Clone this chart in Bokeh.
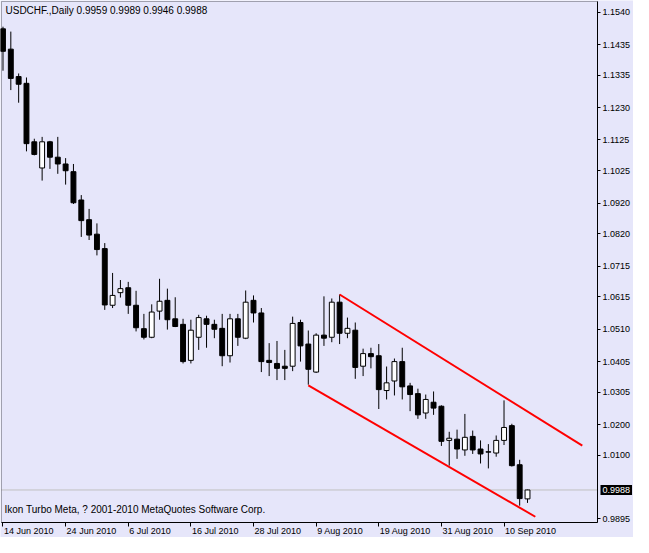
from bokeh.plotting import figure
from bokeh.models import Range1d, FixedTicker, PrintfTickFormatter, Label, BoxAnnotation
from bokeh.core.properties import value
from bokeh.embed import file_html
from bokeh.resources import INLINE

# ---- data (USDCHF daily, 14 Jun 2010 .. 15 Sep 2010) ----
opens = [1.1486, 1.1420, 1.1331, 1.1309, 1.1119, 1.1034, 1.1119, 1.1069, 1.1047, 1.1022,
         1.0930, 1.0866, 1.0819, 1.0772, 1.0588, 1.0629, 1.0645, 1.0588, 1.0512, 1.0484,
         1.0569, 1.0604, 1.0544, 1.0526, 1.0409, 1.0484, 1.0544, 1.0526, 1.0513, 1.0424,
         1.0544, 1.0481, 1.0604, 1.0563, 1.0409, 1.0399, 1.0390, 1.0390, 1.0532, 1.0462,
         1.0371, 1.0491, 1.0484, 1.0598, 1.0497, 1.0507, 1.0390, 1.0431, 1.0424, 1.0311,
         1.0342, 1.0405, 1.0326, 1.0301, 1.0238, 1.0273, 1.0260, 1.0149, 1.0153, 1.0118,
         1.0162, 1.0121, 1.0112, 1.0108, 1.0149, 1.0197, 1.0070, 0.9959]
highs = [1.1493, 1.1477, 1.1341, 1.1328, 1.1129, 1.1135, 1.1122, 1.1135, 1.1066, 1.1047,
         1.0946, 1.0901, 1.0854, 1.0790, 1.0693, 1.0670, 1.0664, 1.0635, 1.0560, 1.0591,
         1.0674, 1.0642, 1.0614, 1.0544, 1.0541, 1.0557, 1.0554, 1.0541, 1.0560, 1.0560,
         1.0560, 1.0636, 1.0620, 1.0579, 1.0465, 1.0472, 1.0443, 1.0551, 1.0541, 1.0506,
         1.0497, 1.0617, 1.0610, 1.0623, 1.0548, 1.0532, 1.0447, 1.0450, 1.0462, 1.0389,
         1.0415, 1.0450, 1.0336, 1.0317, 1.0298, 1.0308, 1.0263, 1.0177, 1.0184, 1.0235,
         1.0181, 1.0149, 1.0137, 1.0165, 1.0279, 1.0203, 1.0086, 0.9989]
lows = [1.1350, 1.1287, 1.1246, 1.1088, 1.1075, 1.0993, 1.1031, 1.1015, 1.0980, 1.0917,
        1.0810, 1.0800, 1.0750, 1.0573, 1.0579, 1.0613, 1.0560, 1.0503, 1.0477, 1.0481,
        1.0541, 1.0509, 1.0517, 1.0399, 1.0399, 1.0443, 1.0450, 1.0481, 1.0390, 1.0402,
        1.0456, 1.0478, 1.0532, 1.0371, 1.0358, 1.0345, 1.0345, 1.0374, 1.0405, 1.0330,
        1.0368, 1.0456, 1.0468, 1.0462, 1.0481, 1.0349, 1.0358, 1.0383, 1.0251, 1.0282,
        1.0295, 1.0282, 1.0244, 1.0219, 1.0219, 1.0232, 1.0131, 1.0067, 1.0089, 1.0099,
        1.0105, 1.0074, 1.0058, 1.0096, 1.0134, 1.0064, 0.9937, 0.9946]
closes = [1.1413, 1.1325, 1.1306, 1.1113, 1.1078, 1.1119, 1.1069, 1.1047, 1.1025, 1.0921,
          1.0863, 1.0816, 1.0769, 1.0589, 1.0620, 1.0642, 1.0588, 1.0515, 1.0484, 1.0566,
          1.0601, 1.0541, 1.0519, 1.0405, 1.0507, 1.0548, 1.0526, 1.0510, 1.0424, 1.0544,
          1.0484, 1.0598, 1.0563, 1.0405, 1.0402, 1.0383, 1.0383, 1.0529, 1.0456, 1.0380,
          1.0491, 1.0481, 1.0598, 1.0497, 1.0513, 1.0386, 1.0431, 1.0421, 1.0314, 1.0336,
          1.0405, 1.0323, 1.0298, 1.0232, 1.0282, 1.0254, 1.0146, 1.0156, 1.0121, 1.0159,
          1.0118, 1.0105, 1.0111, 1.0149, 1.0191, 1.0067, 0.9960, 0.9988]

date_tick_bars = [0, 8, 16, 24, 32, 40, 48, 56, 64]
date_tick_labels = ["14 Jun 2010", "24 Jun 2010", "6 Jul 2010", "16 Jul 2010", "28 Jul 2010",
                    "9 Aug 2010", "19 Aug 2010", "31 Aug 2010", "10 Sep 2010"]
price_ticks = [1.1540, 1.1435, 1.1335, 1.1230, 1.1125, 1.1025, 1.0920, 1.0820, 1.0715,
               1.0615, 1.0510, 1.0405, 1.0305, 1.0200, 1.0100, 0.9895]
bid_price = 0.9988
bid_label = "0.9988"

channel_upper_x = [43, 74]
channel_upper_y = [1.0623, 1.0132]
channel_lower_x = [39, 68]
channel_lower_y = [1.0328, 0.9901]

header_text = "USDCHF.,Daily  0.9959 0.9989 0.9946 0.9988"
footer_text = "Ikon Turbo Meta, ? 2001-2010 MetaQuotes Software Corp."

# ---- layout (pixels) ----
W, H = 633, 537
PL, PT = 1, 1            # price-area left / top edge
PR, PB = 597, 522        # price-area right / bottom edge
X0, X1 = -0.19, 75.94    # visible bar span of the price area
Y0, Y1 = 0.98823, 1.15748
dx = (X1 - X0) / (PR - PL)
dy = (Y1 - Y0) / (PB - PT)
BG = "#E6E6FA"
FONT = "Liberation Sans"

p = figure(width=W, height=H, output_backend="svg", toolbar_location=None,
           x_range=Range1d(X0 - PL * dx, X1 + (W - PR) * dx),
           y_range=Range1d(Y0 - (H - PB) * dy, Y1 + PT * dy),
           y_axis_location="right", min_border=0, min_border_left=0, min_border_right=0,
           min_border_top=0, min_border_bottom=0)
p.background_fill_color = BG
p.border_fill_color = BG
p.outline_line_color = None
p.xgrid.visible = False
p.ygrid.visible = False

ya = p.yaxis[0]
ya.fixed_location = X1
ya.bounds = (Y0, Y1)
ya.ticker = FixedTicker(ticks=price_ticks)
ya.formatter = PrintfTickFormatter(format="%.4f")
ya.axis_line_color = "black"
ya.major_tick_in = 0
ya.major_tick_out = 3
ya.minor_tick_line_color = None
ya.major_label_standoff = 2
ya.major_label_text_font = FONT
ya.major_label_text_font_size = "9px"
ya.major_label_text_color = "black"

xa = p.xaxis[0]
xa.fixed_location = Y0
xa.bounds = (X0, X1)
xa.ticker = FixedTicker(ticks=date_tick_bars)
xa.major_label_overrides = {b: "" for b in date_tick_bars}
xa.axis_line_color = "black"
xa.major_tick_in = 0
xa.major_tick_out = 4
xa.minor_tick_line_color = None
xa.major_label_standoff = 0
xa.major_label_text_font_size = "1px"

# price-area frame
p.add_layout(BoxAnnotation(left=X0, right=X1, bottom=Y0, top=Y1, fill_alpha=0,
                           line_color="black", line_width=1))

# date labels (left-aligned at their ticks)
p.text(x=date_tick_bars, y=[Y0] * len(date_tick_bars), text=date_tick_labels,
       x_offset=1, y_offset=3, text_align="left", text_baseline="top",
       text_font=value(FONT), text_font_size="9px", text_color="black")

# bid line
p.line([X0, X1], [bid_price, bid_price], line_color="#C0C0C0", line_width=1)

# candles
idx = list(range(len(opens)))
tops = [max(o, c) for o, c in zip(opens, closes)]
bots = [min(o, c) for o, c in zip(opens, closes)]
fills = ["white" if c > o else "black" for o, c in zip(opens, closes)]
p.segment(x0=idx, y0=lows, x1=idx, y1=highs, line_color="black", line_width=1)
p.vbar(x=idx, width=0.625, top=tops, bottom=bots, fill_color=fills, line_color="black", line_width=1)

# channel
p.line(channel_upper_x, channel_upper_y, line_color="#FF0000", line_width=2)
p.line(channel_lower_x, channel_lower_y, line_color="#FF0000", line_width=2)

# texts
p.add_layout(Label(x=X0, y=Y1, x_units="data", y_units="data", text=header_text,
                   x_offset=4, y_offset=-9, text_align="left", text_baseline="middle",
                   text_font=FONT, text_font_size="10px", text_color="black"))
p.add_layout(Label(x=X0, y=Y0, x_units="data", y_units="data", text=footer_text,
                   x_offset=3, y_offset=13, text_align="left", text_baseline="middle",
                   text_font=FONT, text_font_size="10px", text_color="black"))

# bid price box on the price scale
p.add_layout(Label(x=X1, y=bid_price, x_units="data", y_units="data", text=bid_label,
                   x_offset=3, text_align="left", text_baseline="middle", text_font=FONT,
                   text_font_size="9px", text_color="white", background_fill_color="black",
                   padding=2))

open("out.html", "w").write(file_html(p, INLINE))
